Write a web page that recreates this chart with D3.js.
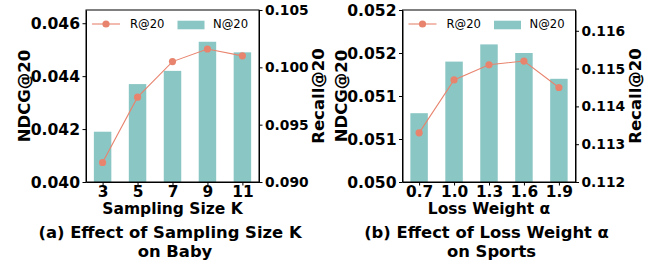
<!DOCTYPE html>
<html>
<head>
<meta charset="utf-8">
<script src="https://cdn.jsdelivr.net/npm/d3@7"></script>
<style>
  body { margin: 0; background: #fff; }
  svg { display: block; font-family: "DejaVu Sans", sans-serif; }
  .tick line, .domain { stroke: #000; }
</style>
</head>
<body>
<svg id="chart" width="657" height="262"></svg>
<script>
// panel (a): sampling size K on Baby
var kCats = ["3", "5", "7", "9", "11"];
var kNdcg = [0.0419, 0.0437, 0.0442, 0.0453, 0.0449];
var kRecall = [0.0917, 0.0974, 0.1005, 0.1016, 0.1010];
var kNdcgTicks = [0.040, 0.042, 0.044, 0.046];
var kNdcgLabels = ["0.040", "0.042", "0.044", "0.046"];
var kRecallTicks = [0.090, 0.095, 0.100, 0.105];
var kRecallLabels = ["0.090", "0.095", "0.100", "0.105"];

// panel (b): loss weight alpha on Sports
var aCats = ["0.7", "1.0", "1.3", "1.6", "1.9"];
var aNdcg = [0.0508, 0.0514, 0.0516, 0.0515, 0.0512];
var aRecall = [0.1133, 0.1147, 0.1151, 0.1152, 0.1145];
var aNdcgTicks = [0.0500, 0.0505, 0.0510, 0.0515, 0.0520];
var aNdcgLabels = ["0.050", "0.051", "0.051", "0.052", "0.052"];
var aRecallTicks = [0.112, 0.113, 0.114, 0.115, 0.116];
var aRecallLabels = ["0.112", "0.113", "0.114", "0.115", "0.116"];

var barColor = "#8ac6c4",
    lineColor = "#e8846e";

var svg = d3.select("#chart");

function drawPanel(p) {
  var x0 = p.left, x1 = p.left + 173, y0 = 10, y1 = 182;
  var g = svg.append("g");

  var x = d3.scaleLinear().domain([-0.475, p.cats.length - 1 + 0.475]).range([x0, x1]);
  var yL = d3.scaleLinear().domain(p.ndcgDomain).range([y1, y0]);
  var yR = d3.scaleLinear().domain(p.recallDomain).range([y1, y0]);
  var bw = x(0.5) - x(0);

  g.selectAll("rect.bar")
    .data(p.ndcg)
    .enter().append("rect")
    .attr("class", "bar")
    .attr("x", function(d, i) { return x(i) - bw / 2; })
    .attr("width", bw)
    .attr("y", function(d) { return yL(d); })
    .attr("height", function(d) { return y1 - yL(d); })
    .attr("fill", barColor);

  var line = d3.line()
    .x(function(d, i) { return x(i); })
    .y(function(d) { return yR(d); });

  g.append("path")
    .datum(p.recall)
    .attr("d", line)
    .attr("fill", "none")
    .attr("stroke", lineColor)
    .attr("stroke-width", 1.1);

  g.selectAll("circle.pt")
    .data(p.recall)
    .enter().append("circle")
    .attr("class", "pt")
    .attr("cx", function(d, i) { return x(i); })
    .attr("cy", function(d) { return yR(d); })
    .attr("r", 3.6)
    .attr("fill", lineColor);

  // axes
  var axL = g.append("g")
    .attr("transform", "translate(" + x0 + ",0)")
    .call(d3.axisLeft(yL).tickValues(p.ndcgTicks)
      .tickFormat(function(d, i) { return p.ndcgLabels[i]; })
      .tickSize(3.5).tickPadding(2.5).tickSizeOuter(0));
  axL.selectAll("text").attr("font-size", 15.6).attr("font-weight", "bold")
    .attr("font-family", "DejaVu Sans").attr("fill", "#000");

  var axR = g.append("g")
    .attr("transform", "translate(" + x1 + ",0)")
    .call(d3.axisRight(yR).tickValues(p.recallTicks)
      .tickFormat(function(d, i) { return p.recallLabels[i]; })
      .tickSize(3.5).tickPadding(2.5).tickSizeOuter(0));
  axR.selectAll("text").attr("font-size", 13.8).attr("font-weight", "bold")
    .attr("font-family", "DejaVu Sans").attr("fill", "#000");

  var axB = g.append("g")
    .attr("transform", "translate(0," + y1 + ")")
    .call(d3.axisBottom(x).tickValues(d3.range(p.cats.length))
      .tickFormat(function(d) { return p.cats[d]; })
      .tickSize(3.5).tickPadding(0).tickSizeOuter(0));
  axB.selectAll("text").attr("font-size", 15.4).attr("font-weight", "bold")
    .attr("font-family", "DejaVu Sans").attr("fill", "#000")
    .attr("dy", null).attr("y", 14.5);

  // frame
  g.append("rect")
    .attr("x", x0).attr("y", y0)
    .attr("width", x1 - x0).attr("height", y1 - y0)
    .attr("fill", "none").attr("stroke", "#000").attr("stroke-width", 1);

  // legend
  var ly = 24;
  g.append("line")
    .attr("x1", x0 + 6).attr("x2", x0 + 34)
    .attr("y1", ly).attr("y2", ly)
    .attr("stroke", lineColor).attr("stroke-width", 1.1);
  g.append("circle")
    .attr("cx", x0 + 20).attr("cy", ly).attr("r", 3.6).attr("fill", lineColor);
  g.append("text")
    .attr("x", x0 + 44).attr("y", 28.3)
    .attr("font-size", 11.6)
    .text("R@20");
  g.append("rect")
    .attr("x", x0 + 91.5).attr("y", 20.7)
    .attr("width", 27).attr("height", 8.6)
    .attr("fill", barColor);
  g.append("text")
    .attr("x", x0 + 127).attr("y", 28.3)
    .attr("font-size", 11.6)
    .text("N@20");

  // axis titles
  var cy = (y0 + y1) / 2;
  g.append("text")
    .attr("transform", "translate(" + (p.leftTitleX + 6) + "," + cy + ") rotate(-90)")
    .attr("text-anchor", "middle")
    .attr("font-size", 16.5).attr("font-weight", "bold")
    .text("NDCG@20");
  g.append("text")
    .attr("transform", "translate(" + (p.rightTitleX + 6) + "," + cy + ") rotate(-90)")
    .attr("text-anchor", "middle")
    .attr("font-size", 16.5).attr("font-weight", "bold")
    .text("Recall@20");

  var cx = (x0 + x1) / 2;
  g.append("text")
    .attr("x", cx).attr("y", 214.3)
    .attr("text-anchor", "middle")
    .attr("font-size", 15.5).attr("font-weight", "bold")
    .text(p.xTitle);

  g.append("text")
    .attr("x", cx - 2.5).attr("y", 238.3)
    .attr("text-anchor", "middle")
    .attr("font-size", 16.4).attr("font-weight", "bold")
    .text(p.caption[0]);
  g.append("text")
    .attr("x", cx + 2.5).attr("y", 256.7)
    .attr("text-anchor", "middle")
    .attr("font-size", 16.4).attr("font-weight", "bold")
    .text(p.caption[1]);
}

drawPanel({
  left: 86,
  cats: kCats, ndcg: kNdcg, recall: kRecall,
  ndcgDomain: [0.040, 0.0465], recallDomain: [0.090, 0.105],
  ndcgTicks: kNdcgTicks, ndcgLabels: kNdcgLabels,
  recallTicks: kRecallTicks, recallLabels: kRecallLabels,
  leftTitleX: 24, rightTitleX: 318,
  xTitle: "Sampling Size K",
  caption: ["(a) Effect of Sampling Size K", "on Baby"]
});

drawPanel({
  left: 402.5,
  cats: aCats, ndcg: aNdcg, recall: aRecall,
  ndcgDomain: [0.050, 0.052], recallDomain: [0.112, 0.11655],
  ndcgTicks: aNdcgTicks, ndcgLabels: aNdcgLabels,
  recallTicks: aRecallTicks, recallLabels: aRecallLabels,
  leftTitleX: 340.5, rightTitleX: 635,
  xTitle: "Loss Weight α",
  caption: ["(b) Effect of Loss Weight α", "on Sports"]
});
</script>
</body>
</html>
